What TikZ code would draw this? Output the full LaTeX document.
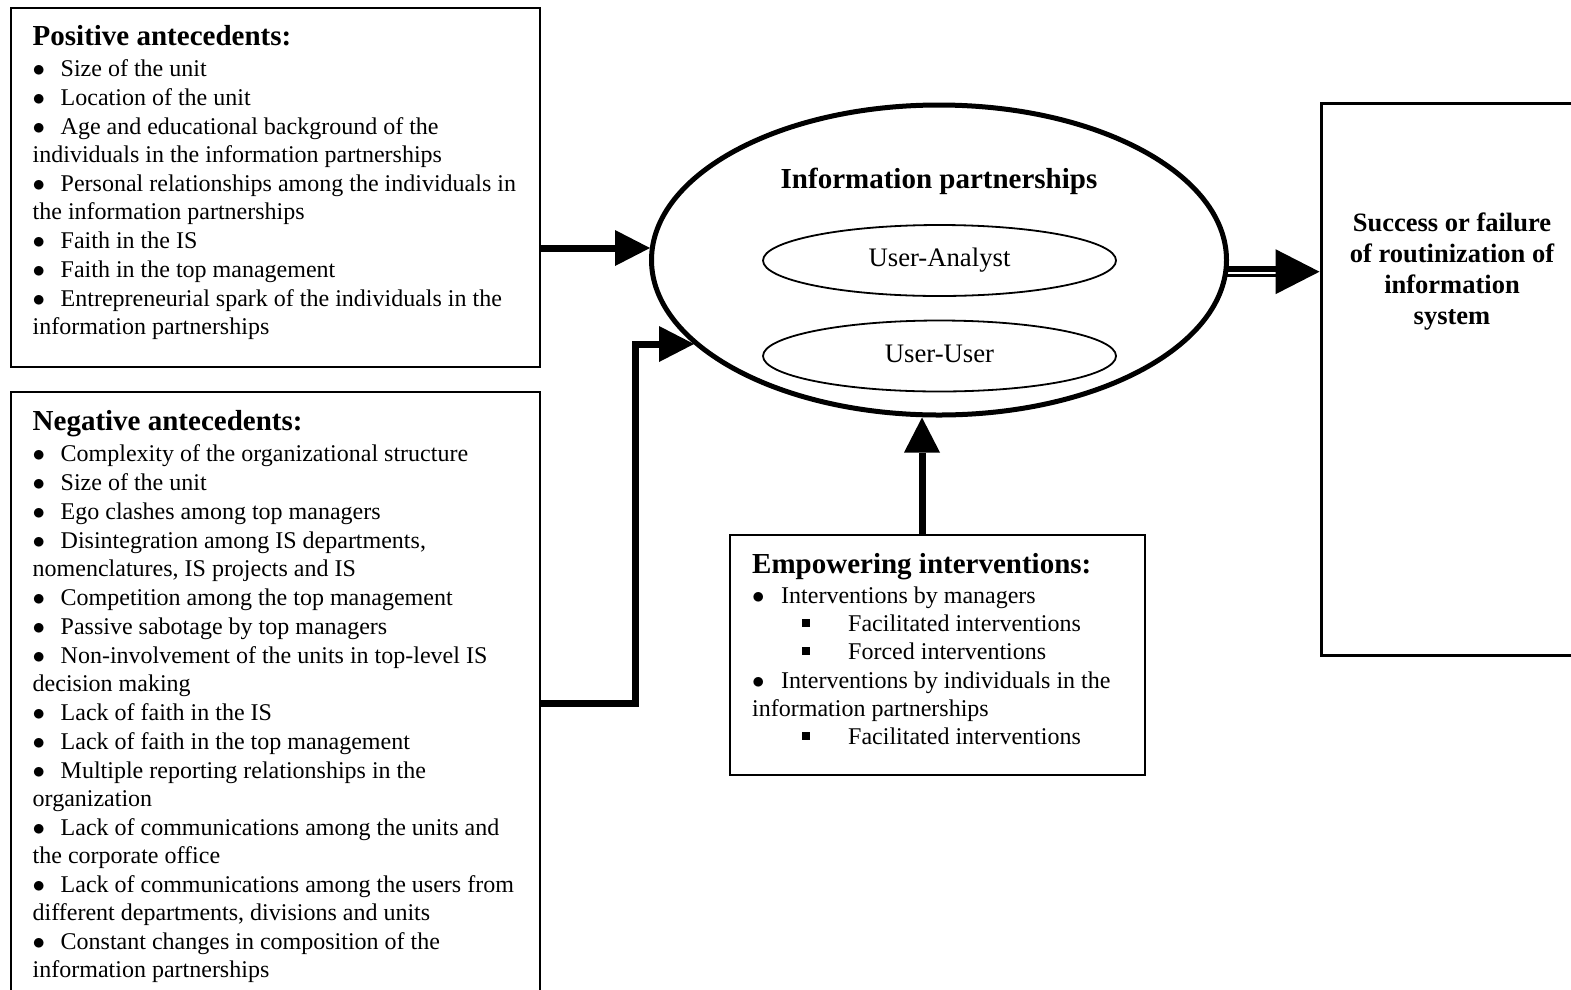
\documentclass[tikz,border=0pt]{standalone}
\usepackage{fontspec}
\setmainfont{Liberation Serif}
\usetikzlibrary{arrows.meta,shapes.geometric,calc}

% list helpers: round bullet with a hanging tab, small square sub-bullet
\newcommand\itembul[2][28pt]{\makebox[#1][l]{$\bullet$}#2}
\newcommand\itemsq[1]{\makebox[96pt][l]{\hspace{50pt}\rule[4.5pt]{7.5pt}{7.5pt}}#1}
\newcommand\bodyfont{\fontsize{24}{28}\selectfont}
\newcommand\headfont{\fontsize{29}{28}\selectfont\bfseries}

\begin{document}
\begin{tikzpicture}[x=1pt,y=-1pt,
  frame/.style={draw, rectangle, line width=2.5pt, inner sep=0pt},
  listtext/.style={anchor=base west, inner sep=0pt},
  pair/.style={draw, ellipse, line width=1.8pt, inner sep=0pt,
    minimum width=353pt, minimum height=71pt,
    text height=18pt, text depth=6pt, font=\fontsize{26.7}{30}\selectfont},
  arr/.style={line width=7pt, line join=miter,
    -{Triangle[length=35pt,width=36pt,line width=0pt]}},
]
\fill[white] (0,0) rectangle (1571,989);
\useasboundingbox (0,0) rectangle (1571,989);

% antecedent boxes
\node[frame, minimum width=529pt, minimum height=359pt] (pos) at (275.5,187.5) {};
\node[listtext] (postext) at (32.5,45) {\parbox[t]{505pt}{\bodyfont\raggedright
  {\headfont Positive antecedents:}\\[3pt]
  \itembul{Size of the unit}\\[1pt]
  \itembul{Location of the unit}\\[1pt]
  \itembul{Age and educational background of the}\\
  individuals in the information partnerships\\[1pt]
  \itembul{Personal relationships among the individuals in}\\
  the information partnerships\\[1pt]
  \itembul{Faith in the IS}\\[1pt]
  \itembul{Faith in the top management}\\[1pt]
  \itembul{Entrepreneurial spark of the individuals in the}\\
  information partnerships}};

\node[frame, minimum width=529pt, minimum height=618pt] (neg) at (275.5,701) {};
\node[listtext] (negtext) at (32.5,430) {\parbox[t]{505pt}{\bodyfont\raggedright
  {\headfont Negative antecedents:}\\[3pt]
  \itembul{Complexity of the organizational structure}\\[1pt]
  \itembul{Size of the unit}\\[1pt]
  \itembul{Ego clashes among top managers}\\[1pt]
  \itembul{Disintegration among IS departments,}\\
  nomenclatures, IS projects and IS\\[1pt]
  \itembul{Competition among the top management}\\[1pt]
  \itembul{Passive sabotage by top managers}\\[1pt]
  \itembul{Non-involvement of the units in top-level IS}\\
  decision making\\[1pt]
  \itembul{Lack of faith in the IS}\\[1pt]
  \itembul{Lack of faith in the top management}\\[1pt]
  \itembul{Multiple reporting relationships in the}\\
  organization\\[1pt]
  \itembul{Lack of communications among the units and}\\
  the corporate office\\[1pt]
  \itembul{Lack of communications among the users from}\\
  different departments, divisions and units\\[1pt]
  \itembul{Constant changes in composition of the}\\
  information partnerships}};

% interventions box
\node[frame, line width=2.7pt, minimum width=415pt, minimum height=240pt] (emp) at (937.5,655) {};
\node[listtext] (emptext) at (752,573) {\parbox[t]{390pt}{\bodyfont\raggedright
  {\headfont Empowering interventions:}\\[2pt]
  \itembul[29pt]{Interventions by managers}\\
  \itemsq{Facilitated interventions}\\
  \itemsq{Forced interventions}\\[1pt]
  \itembul[29pt]{Interventions by individuals in the}\\
  information partnerships\\
  \itemsq{Facilitated interventions}}};

% outcome box
\node[frame, line width=3pt, minimum width=280pt, minimum height=552pt] (res) at (1461,379) {};
\node[anchor=base, inner sep=0pt] (restext) at (1452,231) {\parbox[t]{240pt}{\centering
  \fontsize{26.5}{31}\selectfont\bfseries
  Success or failure\\ of routinization of\\ information\\ system}};

% central ellipse with its two partnership kinds
\node[draw, ellipse, line width=5pt, inner sep=0pt,
  minimum width=575pt, minimum height=310pt] (ip) at (939,260) {};
\node[anchor=base, inner sep=0pt, font=\headfont] (iptitle) at (939,188) {Information partnerships};
\node[pair] (ua) at (939.5,260.5) {User-Analyst};
\node[pair] (uu) at (939.5,356) {User-User};

% points where the incoming arrows meet the ellipse
\coordinate (a1) at ($(ip.center)+(-289,-12)$);
\coordinate (a2) at ($(ip.center)+(-245,84)$);

% influences on the partnerships
\draw[arr] (pos.east |- a1) -- (a1);
\draw[arr] (neg.east |- 0,703) -| (a2 -| 635,0) -- (a2);
\draw[arr] (emp.north -| 922,0) -- (ip.south -| 922,0);

% double connector to the outcome
\draw[line width=6.7pt, shorten <=-2pt] (ip.east |- 0,269) -- ($(res.west |- 0,269)+(-44,0)$);
\draw[line width=3pt, shorten <=-2pt] (ip.east |- 0,275.8) -- ($(res.west |- 0,275.8)+(-44,0)$);
\draw[line width=1pt, -{Triangle[length=44pt,width=45pt,line width=0pt]}]
  ($(res.west |- 0,271.7)+(-44,0)$) -- (res.west |- 0,271.7);
\end{tikzpicture}
\end{document}
